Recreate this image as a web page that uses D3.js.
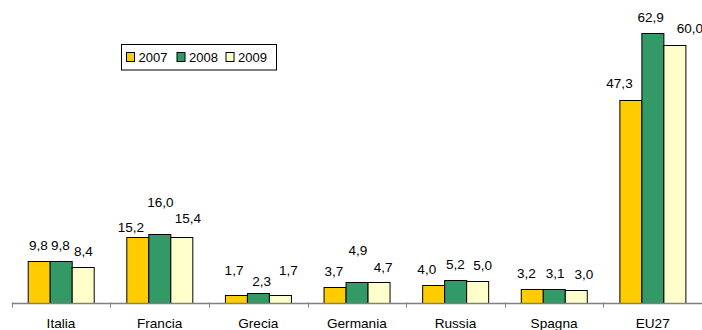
<!DOCTYPE html>
<html>
<head>
<meta charset="utf-8">
<script src="https://cdn.jsdelivr.net/npm/d3@7"></script>
<style>
  html, body { margin: 0; padding: 0; background: #fff; }
  svg { display: block; }
  text { font-family: "Liberation Sans", Arial, sans-serif; fill: #000; }
</style>
</head>
<body>
<svg id="chart" width="702" height="330"></svg>
<script>
// Paesi / aggregati
const categories = ["Italia", "Francia", "Grecia", "Germania", "Russia", "Spagna", "EU27"];
// Anni
const seriesNames = ["2007", "2008", "2009"];
// Valori per anno
const values2007 = [9.8, 15.2, 1.7, 3.7, 4.0, 3.2, 47.3];
const values2008 = [9.8, 16.0, 2.3, 4.9, 5.2, 3.1, 62.9];
const values2009 = [8.4, 15.4, 1.7, 4.7, 5.0, 3.0, 60.0];
// Scostamento manuale delle etichette [dx, dy] per anno e paese
const labelShift2007 = [[-0.5, 0], [-6.5, 6], [-2, -9], [-0.7, 0], [-6.5, -0.5], [-5.5, 0], [-11, -1]];
const labelShift2008 = [[-0.6, 0], [0.7, -16], [3.5, 4], [1, -16], [0, -0.7], [1, 0], [-2, 0]];
const labelShift2009 = [[0.2, 0], [6, -3], [8, -9.6], [4, 1], [5, 0], [7.6, 0], [15, -1]];

const colors = ["#FFCC00", "#339966", "#FFFFCC"];
const seriesValues = [values2007, values2008, values2009];
const seriesShift = [labelShift2007, labelShift2008, labelShift2009];

const svg = d3.select("#chart");
const fmt = v => v.toFixed(1).replace(".", ",");
const stretch = 1.13;

const baseY = 302.5;
const x0 = d3.scaleBand().domain(categories).range([11.7, 702]).paddingInner(0).paddingOuter(0);
const bw = x0.bandwidth();
const x1 = d3.scaleBand().domain(seriesNames).range([16, bw - 16]).padding(0);
const y = d3.scaleLinear().domain([0, 70]).range([baseY, 2.5]);

// Barre
const groups = svg.append("g").selectAll("g")
  .data(categories)
  .join("g")
  .attr("transform", c => `translate(${x0(c)},0)`);

seriesNames.forEach((s, si) => {
  groups.append("rect")
    .attr("x", (c, i) => Math.round(x1(s)) + 0.5)
    .attr("y", (c, i) => Math.round(y(seriesValues[si][i])) + 0.5)
    .attr("width", Math.round(x1.bandwidth()))
    .attr("height", (c, i) => Math.round(baseY) - Math.round(y(seriesValues[si][i])))
    .attr("fill", colors[si])
    .attr("stroke", "#000")
    .attr("stroke-width", 1);
});

// Asse orizzontale
const axis = svg.append("g");
axis.append("line")
  .attr("x1", x0.range()[0]).attr("x2", 702)
  .attr("y1", Math.round(baseY) + 0.5).attr("y2", Math.round(baseY) + 0.5)
  .attr("stroke", "#808080").attr("stroke-width", 1.3);
axis.selectAll("line.tick")
  .data(categories)
  .join("line")
  .attr("class", "tick")
  .attr("x1", c => Math.round(x0(c)) + 0.5).attr("x2", c => Math.round(x0(c)) + 0.5)
  .attr("y1", baseY).attr("y2", baseY + 5)
  .attr("stroke", "#808080").attr("stroke-width", 1);

axis.selectAll("text")
  .data(categories)
  .join("text")
  .attr("transform", c => `translate(${x0(c) + bw / 2},327.7) scale(1.05,1)`)
  .attr("text-anchor", "middle")
  .style("font-size", "13px")
  .text(c => c);

// Etichette dei valori
seriesNames.forEach((s, si) => {
  groups.append("text")
    .attr("transform", (c, i) => {
      const [dx, dy] = seriesShift[si][i];
      const cx = x1(s) + x1.bandwidth() / 2 + dx;
      const cy = y(seriesValues[si][i]) - 11 + dy;
      return `translate(${cx},${cy}) scale(${stretch},1)`;
    })
    .attr("text-anchor", "middle")
    .style("font-size", "12px")
    .text((c, i) => fmt(seriesValues[si][i]));
});

// Legenda
const legend = svg.append("g").attr("transform", "translate(121.5,44.5)");
legend.append("rect")
  .attr("width", 155).attr("height", 25.5)
  .attr("fill", "#fff").attr("stroke", "#000").attr("stroke-width", 1);
const legendX = [5, 55.5, 104.5];
seriesNames.forEach((s, si) => {
  const g = legend.append("g").attr("transform", `translate(${legendX[si]},0)`);
  g.append("rect")
    .attr("x", 0).attr("y", 8).attr("width", 8).attr("height", 9)
    .attr("fill", colors[si]).attr("stroke", "#000").attr("stroke-width", 1);
  g.append("text")
    .attr("x", 12).attr("y", 17.5)
    .style("font-size", "13px")
    .text(s);
});
</script>
</body>
</html>
